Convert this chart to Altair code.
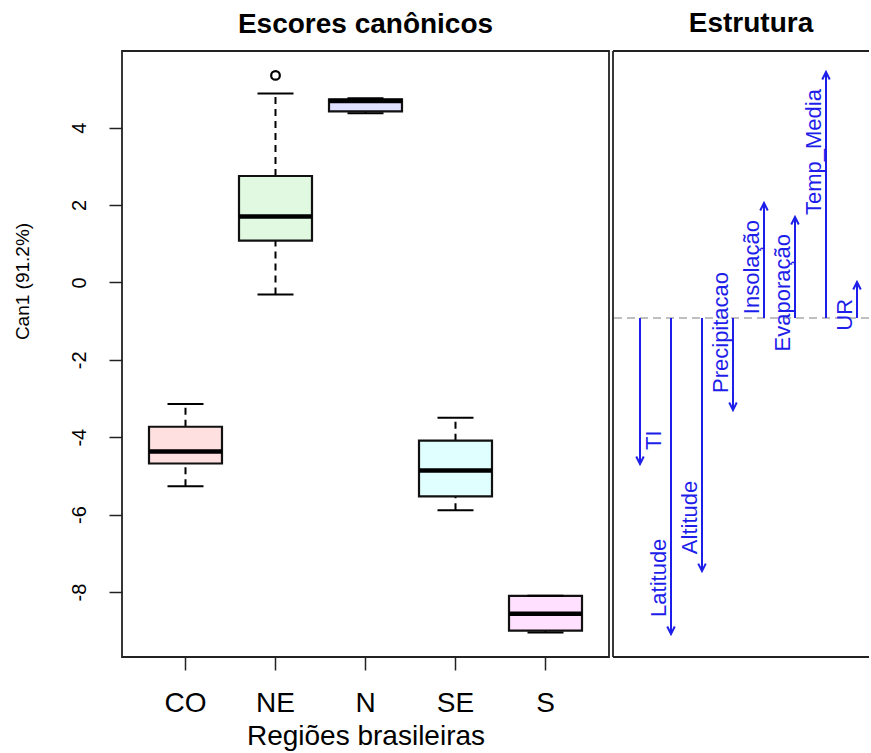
import altair as alt
import pandas as pd

# ---- data: canonical scores per region (boxplot statistics) ----
regions = ["CO", "NE", "N", "SE", "S"]
whisker_low = [-5.27, -0.31, 4.37, -5.89, -9.05]
q1 = [-4.68, 1.08, 4.42, -5.53, -9.00]
median = [-4.37, 1.70, 4.69, -4.86, -8.56]
q3 = [-3.73, 2.75, 4.73, -4.09, -8.10]
whisker_high = [-3.14, 4.88, 4.76, -3.50, -8.10]
box_colors = ["#FFE0E0", "#E0F9E0", "#E0E0FF", "#E0FFFF", "#FFE0FF"]
outlier_region = ["NE"]
outlier_value = [5.35]

# ---- data: structure coefficients ----
variables = ["TI", "Latitude", "Altitude", "Precipitacao", "Insolação",
             "Evaporação", "Temp_Media", "UR"]
structure = [-0.551, -1.192, -0.955, -0.347, 0.434, 0.381, 0.928, 0.136]

FONT = "Liberation Sans"
BLUE = "#1E1EEA"
FRAME_COLOR = "#222222"
FRAME = alt.ViewBackground(stroke=FRAME_COLOR, strokeWidth=1.8)
RW, RH = 256, 606

box_df = pd.DataFrame({
    "region": regions, "lo": whisker_low, "q1": q1, "med": median,
    "q3": q3, "hi": whisker_high, "color": box_colors,
})
out_df = pd.DataFrame({"region": outlier_region, "value": outlier_value})
st_df = pd.DataFrame({"var": variables, "value": structure})

x_scale = alt.Scale(domain=regions, paddingInner=0.189, paddingOuter=0.3)
y_scale = alt.Scale(domain=[-9.68, 5.98], nice=False, zero=False)

x_axis = alt.Axis(
    labelFontSize=28, labelColor="black", labelAngle=0, labelBaseline="alphabetic",
    labelPadding=41, tickSize=13, tickColor="#222", tickWidth=1.5, domain=False,
    titleFontSize=28, titleFontWeight="normal", titleColor="black",
    titleX=243.5, titleY=87, titleAlign="center", titleBaseline="alphabetic",
    labelFont=FONT, titleFont=FONT,
)
y_axis = alt.Axis(
    values=[-8, -6, -4, -2, 0, 2, 4], labelExpr="datum.value + ''",
    labelFontSize=20, labelColor="black", labelAngle=270, labelAlign="center",
    labelBaseline="alphabetic", labelPadding=24, tickSize=13, tickColor="#222",
    tickWidth=1.5, domain=False, grid=False,
    titleFontSize=19, titleFontWeight="normal", titleColor="black",
    titleAngle=270, titleX=-94, titleY=230, titleAlign="center",
    titleBaseline="alphabetic", labelFont=FONT, titleFont=FONT,
)

base = alt.Chart(box_df)
X = alt.X("region:N", sort=regions, scale=x_scale, axis=x_axis,
          title="Regiões brasileiras")

whisk_up = base.mark_rule(color="black", strokeWidth=2, strokeDash=[7, 5]).encode(
    x=X, y=alt.Y("q3:Q", scale=y_scale, axis=y_axis, title="Can1 (91.2%)"),
    y2="hi:Q")
whisk_dn = base.mark_rule(color="black", strokeWidth=2, strokeDash=[7, 5]).encode(
    x=X, y=alt.Y("lo:Q", scale=y_scale), y2="q1:Q")
boxes = base.mark_bar(stroke="#111", strokeWidth=2.2, opacity=1).encode(
    x=X, y=alt.Y("q1:Q", scale=y_scale), y2="q3:Q",
    fill=alt.Fill("color:N", scale=None))
cap_hi = base.mark_tick(color="black", size=36, thickness=2, opacity=1).encode(
    x=X, y=alt.Y("hi:Q", scale=y_scale))
cap_lo = base.mark_tick(color="black", size=36, thickness=2, opacity=1).encode(
    x=X, y=alt.Y("lo:Q", scale=y_scale))
meds = base.mark_tick(color="black", size=73, thickness=4.5, opacity=1).encode(
    x=X, y=alt.Y("med:Q", scale=y_scale))
outliers = alt.Chart(out_df).mark_point(
    shape="circle", size=75, filled=False, color="black", strokeWidth=2.2, opacity=1
).encode(x=alt.X("region:N", sort=regions, scale=x_scale),
         y=alt.Y("value:Q", scale=y_scale))

left = alt.layer(whisk_up, whisk_dn, boxes, cap_hi, cap_lo, meds, outliers).properties(
    width=487, height=606, view=FRAME,
    title=alt.TitleParams("Escores canônicos", fontSize=28, fontWeight="bold",
                          font=FONT, color="black", baseline="alphabetic", offset=-10),
)

# ---- structure panel ----
sx = alt.X("var:N", sort=variables,
           scale=alt.Scale(type="point", domain=variables, range=[27, 244], padding=0),
           axis=None)
sy_scale = alt.Scale(domain=[-1.279, 1.0075], nice=False, zero=False)
sbase = alt.Chart(st_df)

# frame of the (cropped) structure panel: left, top and bottom edges only
frame_df = pd.DataFrame({"edge": ["frame"]})
frame_top = alt.Chart(frame_df).mark_rule(color=FRAME_COLOR, strokeWidth=1.8).encode(
    x=alt.value(0), x2=alt.value(RW), y=alt.value(0))
frame_bot = alt.Chart(frame_df).mark_rule(color=FRAME_COLOR, strokeWidth=1.8).encode(
    x=alt.value(0), x2=alt.value(RW), y=alt.value(RH))
frame_left = alt.Chart(frame_df).mark_rule(color=FRAME_COLOR, strokeWidth=1.8).encode(
    x=alt.value(0), y=alt.value(0), y2=alt.value(RH))

zero_line = alt.Chart(pd.DataFrame({"z": [0]})).mark_rule(
    color="#AAAAAA", strokeWidth=1.5, strokeDash=[8, 5]
).encode(y=alt.Y("z:Q", scale=sy_scale, axis=None))

shafts = sbase.mark_rule(color=BLUE, strokeWidth=2).encode(
    x=sx, y=alt.Y("value:Q", scale=sy_scale, axis=None), y2=alt.datum(0))

head_dn = sbase.transform_filter("datum.value < 0").mark_point(
    shape="M-0.5,-1L0,0L0.5,-1", size=225, filled=False, color=BLUE,
    strokeWidth=2, opacity=1
).encode(x=sx, y=alt.Y("value:Q", scale=sy_scale, axis=None))
head_up = sbase.transform_filter("datum.value >= 0").mark_point(
    shape="M-0.5,1L0,0L0.5,1", size=225, filled=False, color=BLUE,
    strokeWidth=2, opacity=1
).encode(x=sx, y=alt.Y("value:Q", scale=sy_scale, axis=None))

lab_dn = sbase.transform_filter("datum.value < 0 && datum['var'] != 'TI'").mark_text(
    angle=270, align="left", baseline="middle", dx=17, dy=-12,
    fontSize=22, font=FONT, color=BLUE
).encode(x=sx, y=alt.Y("value:Q", scale=sy_scale, axis=None), text="var:N")
lab_ti = sbase.transform_filter("datum['var'] == 'TI'").mark_text(
    angle=270, align="left", baseline="middle", dx=14, dy=14,
    fontSize=22, font=FONT, color=BLUE
).encode(x=sx, y=alt.Y("value:Q", scale=sy_scale, axis=None), text="var:N")
lab_up = sbase.transform_filter("datum.value >= 0").mark_text(
    angle=270, align="right", baseline="middle", dx=-17, dy=-12,
    fontSize=22, font=FONT, color=BLUE
).encode(x=sx, y=alt.Y("value:Q", scale=sy_scale, axis=None), text="var:N")

right = alt.layer(frame_top, frame_bot, frame_left, zero_line, shafts, head_dn,
                  head_up, lab_dn, lab_ti, lab_up).properties(
    width=RW, height=RH, view=alt.ViewBackground(strokeWidth=0, strokeOpacity=0),
    title=alt.TitleParams("Estrutura", fontSize=28, fontWeight="bold", font=FONT,
                          color="black", baseline="alphabetic", offset=-10, dx=10),
)

chart = alt.hconcat(left, right, spacing=2).properties(
    padding={"left": 12, "top": 10, "right": 0, "bottom": 0},
    background="white",
).configure(font=FONT)

chart.save("out.html", embed_options={"renderer": "svg", "actions": False})
